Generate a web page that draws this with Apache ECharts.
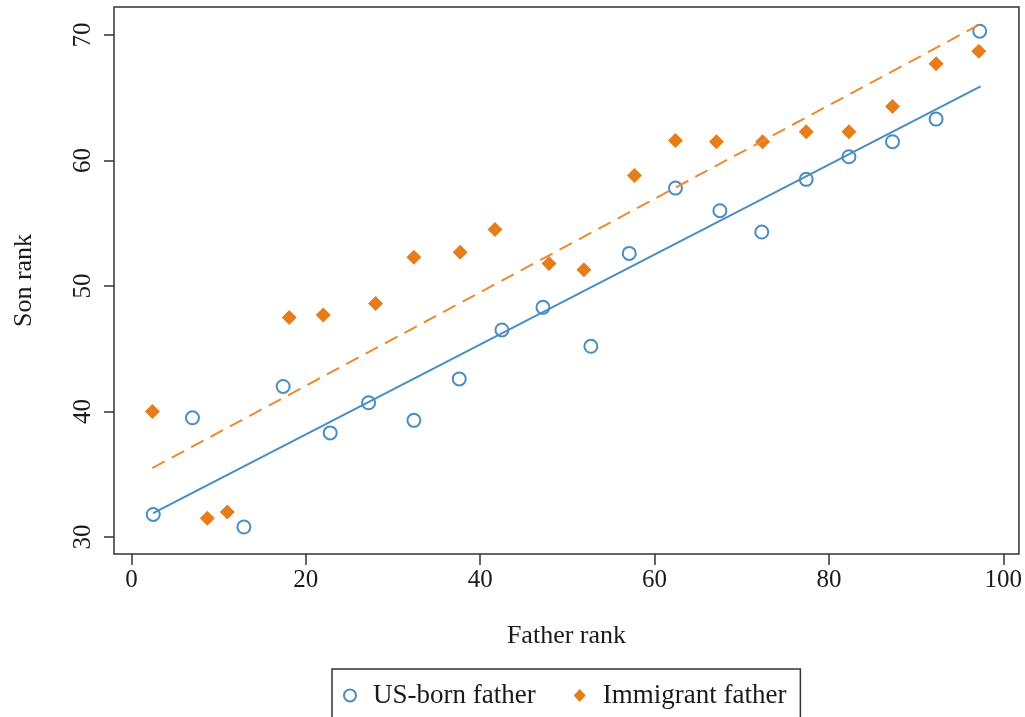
<!DOCTYPE html>
<html>
<head>
<meta charset="utf-8">
<title>Son rank vs father rank</title>
<script src="https://cdn.jsdelivr.net/npm/echarts@6/dist/echarts.min.js"></script>
<style>
  html, body { margin: 0; padding: 0; background: #fff; }
  #chart { width: 1025px; height: 717px; }
</style>
</head>
<body>
<div id="chart"></div>
<script>
// Binned mean son rank by father rank
const usBornX = [2.5, 7.0, 12.9, 17.4, 22.8, 27.2, 32.4, 37.6, 42.5, 47.2,
                 52.7, 57.1, 62.4, 67.5, 72.3, 77.4, 82.3, 87.3, 92.3, 97.3];
const usBornY = [31.8, 39.5, 30.8, 42.0, 38.3, 40.7, 39.3, 42.6, 46.5, 48.3,
                 45.2, 52.6, 57.8, 56.0, 54.3, 58.5, 60.3, 61.5, 63.3, 70.3];
const immigrantX = [2.4, 8.7, 11.0, 18.1, 22.0, 28.0, 32.4, 37.7, 41.7, 47.9,
                    51.9, 57.7, 62.4, 67.1, 72.4, 77.4, 82.3, 87.3, 92.3, 97.2];
const immigrantY = [40.0, 31.5, 32.0, 47.5, 47.7, 48.6, 52.3, 52.7, 54.5, 51.8,
                    51.3, 58.8, 61.6, 61.5, 61.5, 62.3, 62.3, 64.3, 67.7, 68.7];

// Linear fit endpoints
const usBornFit = [[2.5, 31.9], [97.4, 65.9]];
const immigrantFit = [[2.4, 35.5], [97.2, 70.8]];

// Axis ticks
const xTicks = [0, 20, 40, 60, 80, 100];
const yTicks = [30, 40, 50, 60, 70];

const seriesNames = ['US-born father', 'Immigrant father'];

const zip = (xs, ys) => xs.map((x, i) => [x, ys[i]]);

const BLUE = '#4a8dc3';
const ORANGE = '#e47d1a';
const FONT = '"Liberation Serif", "Times New Roman", serif';
const INK = '#1a1a1a';

const chart = echarts.init(document.getElementById('chart'), null, { renderer: 'canvas' });

chart.setOption({
  animation: false,
  backgroundColor: '#ffffff',
  textStyle: { fontFamily: FONT },
  grid: {
    left: 114, right: 6, top: 7, bottom: 163,
    show: true, borderColor: '#333', borderWidth: 1.5,
    containLabel: false
  },
  xAxis: {
    type: 'value',
    min: -2, max: 101.8,
    name: 'Father rank',
    nameLocation: 'middle',
    nameGap: 69,
    nameTextStyle: { fontFamily: FONT, fontSize: 26, color: INK },
    axisLine: { show: false, onZero: false },
    splitLine: { show: false },
    axisTick: { show: true, length: 11, customValues: xTicks,
                lineStyle: { color: '#333', width: 1.5 } },
    axisLabel: { customValues: xTicks, margin: 14, fontFamily: FONT,
                 fontSize: 25, color: INK }
  },
  yAxis: {
    type: 'value',
    min: 28.65, max: 72.23,
    name: 'Son rank',
    nameLocation: 'middle',
    nameRotate: 90,
    nameGap: 77,
    nameTextStyle: { fontFamily: FONT, fontSize: 26, color: INK },
    axisLine: { show: false, onZero: false },
    splitLine: { show: false },
    axisTick: { show: true, length: 10, customValues: yTicks,
                lineStyle: { color: '#333', width: 1.5 } },
    axisLabel: { customValues: yTicks, rotate: 90, margin: 18,
                 fontFamily: FONT, fontSize: 25, color: INK }
  },
  legend: {
    data: [
      { name: seriesNames[0], icon: 'emptyCircle' },
      { name: seriesNames[1], icon: 'diamond' }
    ],
    left: 332, top: 669,
    orient: 'horizontal',
    padding: [13, 14, 40, 11],
    itemWidth: 12, itemHeight: 13,
    itemGap: 38,
    borderColor: '#333', borderWidth: 1.5,
    textStyle: { fontFamily: FONT, fontSize: 27, color: INK, padding: [0, 0, 0, 12] }
  },
  series: [
    {
      name: seriesNames[0],
      type: 'scatter',
      symbol: 'emptyCircle',
      symbolSize: 13,
      itemStyle: { color: BLUE, borderColor: BLUE, borderWidth: 2, opacity: 1 },
      data: zip(usBornX, usBornY),
      z: 3
    },
    {
      name: seriesNames[1],
      type: 'scatter',
      symbol: 'diamond',
      symbolSize: 15,
      itemStyle: { color: ORANGE, opacity: 1 },
      data: zip(immigrantX, immigrantY),
      z: 3
    },
    {
      name: 'US-born fit',
      type: 'line',
      showSymbol: false,
      symbol: 'none',
      silent: true,
      lineStyle: { color: BLUE, width: 2 },
      data: usBornFit,
      z: 4
    },
    {
      name: 'Immigrant fit',
      type: 'line',
      showSymbol: false,
      symbol: 'none',
      silent: true,
      lineStyle: { color: '#ec8a30', width: 2, type: [14, 8] },
      data: immigrantFit,
      z: 4
    }
  ]
});
</script>
</body>
</html>
